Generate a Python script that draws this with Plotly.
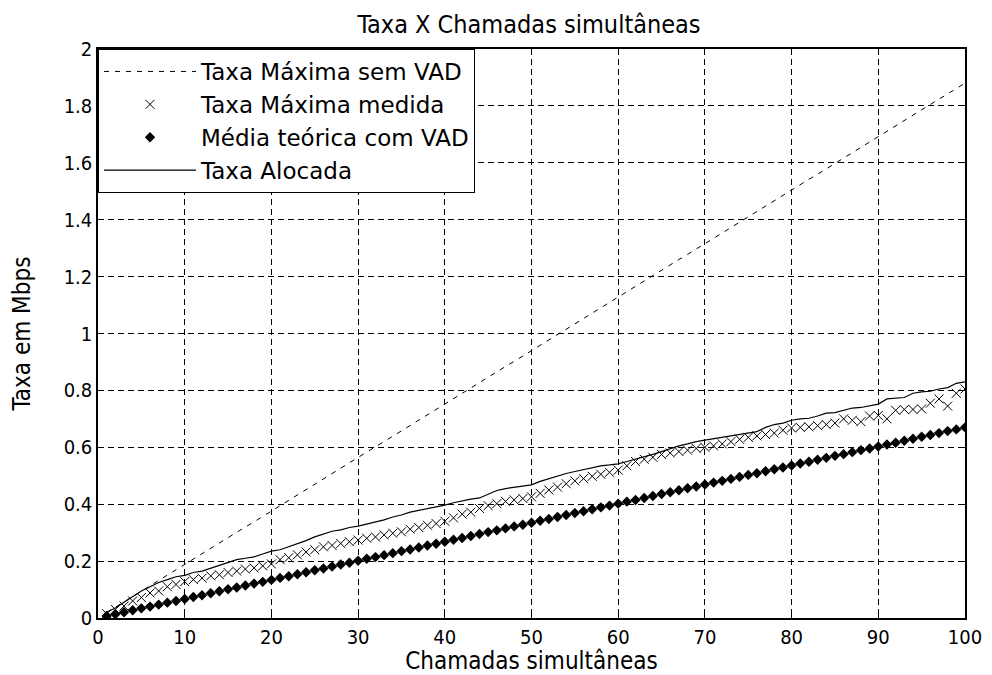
import plotly.graph_objects as go

chamadas = list(range(1, 101))

taxa_max_sem_vad = [
    0.019, 0.038, 0.056, 0.075, 0.094, 0.113, 0.132, 0.150, 0.169, 0.188,
    0.207, 0.226, 0.244, 0.263, 0.282, 0.301, 0.320, 0.338, 0.357, 0.376,
    0.395, 0.414, 0.432, 0.451, 0.470, 0.489, 0.508, 0.526, 0.545, 0.564,
    0.583, 0.602, 0.620, 0.639, 0.658, 0.677, 0.696, 0.714, 0.733, 0.752,
    0.771, 0.790, 0.808, 0.827, 0.846, 0.865, 0.884, 0.902, 0.921, 0.940,
    0.959, 0.978, 0.996, 1.015, 1.034, 1.053, 1.072, 1.090, 1.109, 1.128,
    1.147, 1.166, 1.184, 1.203, 1.222, 1.241, 1.260, 1.278, 1.297, 1.316,
    1.335, 1.354, 1.372, 1.391, 1.410, 1.429, 1.448, 1.466, 1.485, 1.504,
    1.523, 1.542, 1.560, 1.579, 1.598, 1.617, 1.636, 1.654, 1.673, 1.692,
    1.711, 1.730, 1.748, 1.767, 1.786, 1.805, 1.824, 1.842, 1.861, 1.880,
]

taxa_max_medida = [
    0.015, 0.030, 0.042, 0.060, 0.072, 0.088, 0.095, 0.110, 0.118, 0.128,
    0.135, 0.140, 0.148, 0.152, 0.160, 0.165, 0.172, 0.176, 0.183, 0.190,
    0.205, 0.212, 0.222, 0.232, 0.240, 0.250, 0.255, 0.262, 0.268, 0.274,
    0.280, 0.285, 0.292, 0.298, 0.303, 0.312, 0.318, 0.326, 0.332, 0.340,
    0.352, 0.365, 0.372, 0.385, 0.395, 0.402, 0.410, 0.415, 0.420, 0.426,
    0.438, 0.450, 0.460, 0.472, 0.482, 0.490, 0.498, 0.505, 0.512, 0.520,
    0.535, 0.550, 0.558, 0.565, 0.575, 0.580, 0.585, 0.590, 0.596, 0.600,
    0.605, 0.612, 0.620, 0.628, 0.635, 0.640, 0.645, 0.650, 0.660, 0.668,
    0.670, 0.672, 0.676, 0.680, 0.685, 0.700, 0.695, 0.690, 0.710, 0.712,
    0.700, 0.730, 0.733, 0.733, 0.735, 0.755, 0.770, 0.745, 0.790, 0.805,
]

media_teorica_vad = [
    0.007, 0.013, 0.020, 0.027, 0.034, 0.040, 0.047, 0.054, 0.060, 0.067,
    0.074, 0.080, 0.087, 0.094, 0.101, 0.107, 0.114, 0.121, 0.127, 0.134,
    0.141, 0.147, 0.154, 0.161, 0.168, 0.174, 0.181, 0.188, 0.194, 0.201,
    0.208, 0.214, 0.221, 0.228, 0.235, 0.241, 0.248, 0.255, 0.261, 0.268,
    0.275, 0.281, 0.288, 0.295, 0.302, 0.308, 0.315, 0.322, 0.328, 0.335,
    0.342, 0.348, 0.355, 0.362, 0.369, 0.375, 0.382, 0.389, 0.395, 0.402,
    0.409, 0.415, 0.422, 0.429, 0.436, 0.442, 0.449, 0.456, 0.462, 0.469,
    0.476, 0.482, 0.489, 0.496, 0.503, 0.509, 0.516, 0.523, 0.529, 0.536,
    0.543, 0.549, 0.556, 0.563, 0.570, 0.576, 0.583, 0.590, 0.596, 0.603,
    0.610, 0.616, 0.623, 0.630, 0.637, 0.643, 0.650, 0.657, 0.663, 0.670,
]

taxa_alocada = [
    0.020, 0.035, 0.055, 0.075, 0.095, 0.110, 0.125, 0.135, 0.145, 0.150,
    0.160, 0.165, 0.175, 0.185, 0.195, 0.205, 0.210, 0.215, 0.225, 0.235,
    0.240, 0.250, 0.260, 0.272, 0.285, 0.295, 0.305, 0.310, 0.318, 0.323,
    0.330, 0.338, 0.345, 0.355, 0.362, 0.372, 0.378, 0.385, 0.392, 0.397,
    0.405, 0.412, 0.418, 0.422, 0.435, 0.448, 0.455, 0.460, 0.465, 0.468,
    0.480, 0.490, 0.500, 0.508, 0.515, 0.522, 0.530, 0.535, 0.538, 0.542,
    0.550, 0.558, 0.565, 0.575, 0.585, 0.595, 0.605, 0.612, 0.620, 0.625,
    0.630, 0.635, 0.640, 0.645, 0.648, 0.655, 0.670, 0.680, 0.685, 0.695,
    0.700, 0.702, 0.710, 0.720, 0.722, 0.730, 0.738, 0.740, 0.745, 0.752,
    0.770, 0.772, 0.775, 0.790, 0.795, 0.797, 0.805, 0.810, 0.825, 0.830,
]

x_ticks = [0, 10, 20, 30, 40, 50, 60, 70, 80, 90, 100]
y_ticks = [0, 0.2, 0.4, 0.6, 0.8, 1.0, 1.2, 1.4, 1.6, 1.8, 2.0]
y_tick_text = ["0", "0.2", "0.4", "0.6", "0.8", "1", "1.2", "1.4", "1.6", "1.8", "2"]

NARROW = "Liberation Sans Narrow, DejaVu Sans Condensed, Arial Narrow, sans-serif"
WIDE = "DejaVu Sans, Verdana, sans-serif"

fig = go.Figure()
fig.add_trace(go.Scatter(
    x=chamadas, y=taxa_max_sem_vad, mode="lines", name="Taxa Máxima sem VAD",
    line=dict(color="black", width=1, dash="5px,6px"),
))
fig.add_trace(go.Scatter(
    x=chamadas, y=taxa_max_medida, mode="markers", name="Taxa Máxima medida",
    marker=dict(symbol="x-thin-open", size=9, color="black", line=dict(color="black", width=1)),
))
fig.add_trace(go.Scatter(
    x=chamadas, y=media_teorica_vad, mode="markers", name="Média teórica com VAD",
    marker=dict(symbol="diamond", size=8, color="black"),
))
fig.add_trace(go.Scatter(
    x=chamadas, y=taxa_alocada, mode="lines", name="Taxa Alocada",
    line=dict(color="black", width=1.2),
))

axis_common = dict(
    showline=True, linecolor="black", linewidth=1.5, mirror="ticks",
    ticks="inside", ticklen=6, tickcolor="black", tickwidth=1,
    showgrid=True, gridcolor="black", gridwidth=1, griddash="6px,4px",
    zeroline=False, automargin=False,
    tickfont=dict(family=NARROW, size=20, color="black"),
)

fig.update_layout(
    width=984, height=667,
    paper_bgcolor="white", plot_bgcolor="white",
    margin=dict(l=90, r=27, t=41, b=57),
    title=dict(text="Taxa X Chamadas simultâneas", x=0.5295, xanchor="center",
               y=0.976, yanchor="middle",
               font=dict(family=NARROW, size=25, color="black")),
    xaxis=dict(range=[0, 100], tickvals=x_ticks, ticktext=[str(v) for v in x_ticks],
               title=dict(text="Chamadas simultâneas", standoff=4,
                          font=dict(family=NARROW, size=24, color="black")),
               **axis_common),
    yaxis=dict(range=[0, 2], tickvals=y_ticks, ticktext=y_tick_text,
               title=dict(text="Taxa em Mbps", standoff=34,
                          font=dict(family=NARROW, size=24, color="black")),
               **axis_common),
    legend=dict(x=0, y=1, xanchor="left", yanchor="top",
                bgcolor="white", bordercolor="black", borderwidth=1,
                font=dict(family=WIDE, size=23, color="black"),
                itemwidth=92, tracegroupgap=0),
    showlegend=True,
)

fig.write_html("out.html")
